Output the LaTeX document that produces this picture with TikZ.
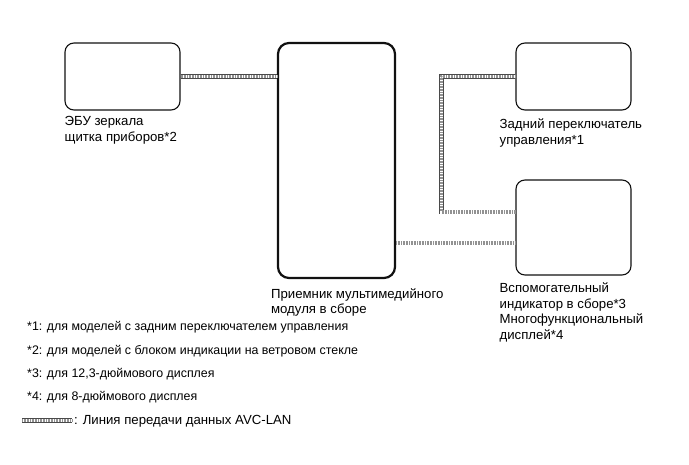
\documentclass[tikz,border=0pt]{standalone}
\usepackage{fontspec}
\setmainfont{Liberation Sans}
\usetikzlibrary{positioning,calc}
\definecolor{Wire}{HTML}{4A4A4A}
\definecolor{Ink}{HTML}{111111}

\begin{document}
\begin{tikzpicture}[x=1pt,y=-1pt,
    unit/.style={draw=Ink,line width=1.1pt,rounded corners=9pt,minimum width=115pt,inner sep=0pt},
    head/.style={unit,line width=2.2pt,rounded corners=11pt,minimum width=117pt},
    lbl/.style={align=left,inner sep=0pt,font=\fontsize{13.2}{15.5}\selectfont},
    note/.style={anchor=base west,inner sep=0pt,font=\fontsize{12.4}{15}\selectfont},
    cable/.style={draw=Wire,line width=0.55pt,double=white,double distance=3.4pt,
                  postaction={draw=Wire!60,line width=3.4pt,dash pattern=on 0.6pt off 1pt}}]
  \useasboundingbox (0,0) rectangle (689,465);
  % units
  \node[unit,minimum height=67pt] (ecu) at (122.5,76.5) {};
  \node[head,minimum height=235pt] (radio) at (336.5,160.5) {};
  \node[unit,minimum height=67pt] (rsw) at (573.5,76.5) {};
  \node[unit,minimum height=95pt] (disp) at (573.5,227.5) {};
  % labels
  \node[lbl,below right=6pt and 0pt of ecu.south west] (ecutxt) {ЭБУ зеркала\\щитка приборов*2};
  \node[lbl,below right=9pt and -6pt of radio.south west] (radiotxt) {Приемник мультимедийного\\модуля в сборе};
  \node[lbl,below right=8pt and -16pt of rsw.south west] (rswtxt) {Задний переключатель\\управления*1};
  \node[lbl,below right=7pt and -16pt of disp.south west] (disptxt)
    {Вспомогательный\\индикатор в сборе*3\\Многофункциональный\\дисплей*4};
  % AVC-LAN
  \coordinate (d1) at ([yshift=15.5pt]disp.west);
  \coordinate (d2) at ([yshift=-15.5pt]disp.west);
  \draw[cable] (ecu.east) -- (ecu.east -| radio.west);
  \draw[cable] (d2 -| radio.east) -- (d2);
  \draw[cable] (rsw.west) -- ++(-74,0) |- (d1);
  % notes
  \node[note] (n1) at (27,331) {*1: для моделей с задним переключателем управления};
  \node[note] (n2) at (27,355) {*2: для моделей с блоком индикации на ветровом стекле};
  \node[note] (n3) at (27,378) {*3: для 12,3-дюймового дисплея};
  \node[note] (n4) at (27,401) {*4: для 8-дюймового дисплея};
  \coordinate (lg1) at (22,420.5);
  \coordinate (lg2) at (72,420.5);
  \draw[cable] (lg1) -- (lg2);
  \node[note,font=\fontsize{13.2}{15}\selectfont] (lgtxt) at (74,424.5) {: Линия передачи данных AVC-LAN};
\end{tikzpicture}
\end{document}
